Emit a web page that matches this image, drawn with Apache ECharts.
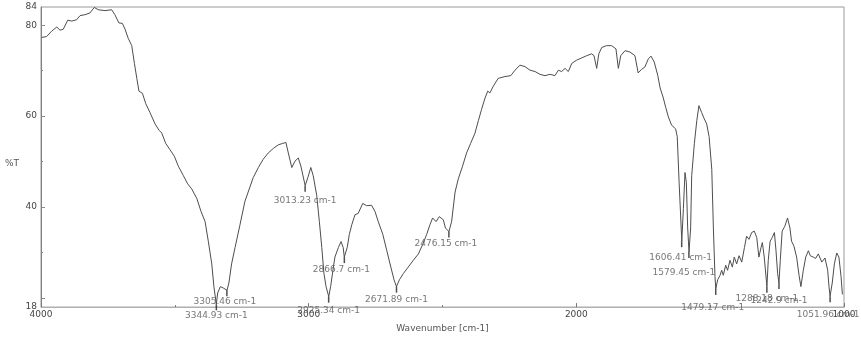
<!DOCTYPE html>
<html>
<head>
<meta charset="utf-8">
<script src="https://cdn.jsdelivr.net/npm/echarts@6/dist/echarts.min.js"></script>
<style>
html,body{margin:0;padding:0;background:#fff;}
#chart{width:861px;height:338px;}
</style>
</head>
<body>
<div id="chart"></div>
<script>
// Spectrum: wavenumber (cm-1) and transmittance (%T)
const wavenumber = [
3997,3979,3960,3941,3929,3917,3900,3885,3867,3854,3836,3817,3801,3786,3761,3736,3724,3709,3696,3686,
3674,3661,3651,3642,3634,3621,3609,3593,3574,3559,3549,3534,3518,3502,3487,3468,3452,3437,3418,3402,
3387,3375,3362,3354,3345,3340,3330,3319,3305,3298,3288,3275,3257,3238,3226,3207,3188,3170,3151,3132,
3113,3097,3085,3076,3063,3051,3039,3029,3013,3003,2992,2983,2970,2960,2951,2943,2935,2925,2918,2910,
2902,2889,2879,2871,2867,2856,2848,2839,2827,2815,2798,2783,2765,2752,2740,2723,2708,2693,2681,2672,
2661,2646,2628,2609,2590,2574,2559,2547,2537,2524,2512,2497,2489,2476,2466,2453,2441,2425,2410,2395,
2379,2366,2354,2341,2331,2323,2310,2292,2267,2245,2229,2211,2192,2173,2154,2136,2117,2098,2080,2067,
2055,2042,2030,2017,1999,1980,1961,1943,1934,1924,1916,1905,1887,1868,1852,1843,1834,1818,1800,1781,
1769,1756,1744,1731,1721,1709,1696,1687,1675,1666,1656,1644,1629,1623,1616,1606,1600,1594,1589,1584,
1579,1573,1569,1559,1550,1542,1532,1522,1513,1504,1494,1488,1482,1479,1472,1463,1457,1451,1442,1435,
1426,1417,1410,1401,1392,1382,1372,1364,1355,1345,1335,1326,1318,1310,1305,1298,1288,1283,1276,1268,
1260,1254,1248,1243,1238,1231,1221,1211,1202,1196,1187,1177,1168,1161,1152,1143,1133,1126,1115,1106,
1096,1083,1071,1061,1056,1052,1044,1036,1027,1019,1011,1006
];
const transmittance = [
77.3,77.5,78.7,79.6,78.9,79.1,81.1,80.9,81.2,82.1,82.3,82.7,83.9,83.4,83.2,83.4,82.3,80.5,80.4,79.1,
77.1,75.5,71.6,68.3,65.5,65.0,62.8,60.8,58.3,56.9,56.3,54.0,52.6,51.2,49.0,46.9,45.1,44.0,41.9,39.0,
36.8,32.5,27.5,22.5,18.6,21.1,22.5,22.2,21.7,23.3,27.5,31.1,36.0,41.3,43.3,46.5,48.7,50.5,51.9,52.9,
53.7,54.0,54.2,51.9,48.7,50.1,50.8,49.0,44.7,46.5,48.7,46.9,42.6,36.8,31.1,25.4,22.5,20.3,22.5,25.8,
29.0,31.1,32.4,31.1,29.0,31.1,34.0,36.1,38.3,38.6,40.8,40.3,40.4,39.0,36.8,34.0,30.4,26.8,24.0,22.5,
24.0,25.4,26.8,28.3,29.7,31.8,34.0,36.1,37.6,36.8,37.9,37.2,35.4,34.6,36.8,43.3,46.2,49.0,51.9,54.0,
56.2,59.0,61.5,64.0,65.5,65.1,66.6,68.3,68.7,68.9,70.1,71.2,70.9,70.1,69.8,69.2,68.9,69.2,68.9,70.1,
69.8,70.5,69.8,71.6,72.3,72.8,73.3,73.7,73.3,70.5,73.7,75.1,75.5,75.5,74.8,70.5,73.3,74.4,74.1,73.3,
69.5,70.3,70.8,72.6,73.2,71.9,69.0,66.2,64.0,61.9,59.8,58.0,57.2,55.5,45.4,32.5,39.7,47.6,45.4,35.4,
30.1,35.4,46.9,54.0,59.0,62.3,60.8,59.4,58.3,55.5,48.3,35.4,24.7,22.0,24.0,25.0,26.1,25.0,27.2,26.1,
28.3,26.8,29.0,27.5,29.3,27.9,31.1,33.6,32.9,34.4,34.7,33.3,29.0,31.1,32.2,29.0,22.5,28.3,32.5,33.3,
34.4,30.4,25.4,23.3,28.3,34.7,35.8,37.6,35.4,32.5,31.4,29.0,25.0,22.5,26.1,29.0,30.4,29.3,29.0,28.7,
29.7,27.9,28.8,26.1,22.5,20.4,23.3,27.5,29.9,29.0,24.7,20.8
];

// Labelled peaks
const peakWavenumber = [3344.93,3305.46,3013.23,2925.34,2866.7,2671.89,2476.15,1606.41,1579.45,1479.17,1288.18,1242.9,1051.96];
const peakTransmittance = [18.6,21.7,44.7,20.3,29.0,22.5,34.6,32.5,30.1,22.0,22.5,23.3,20.4];
const peakLabels = ['3344.93 cm-1','3305.46 cm-1','3013.23 cm-1','2925.34 cm-1','2866.7 cm-1','2671.89 cm-1','2476.15 cm-1',
                    '1606.41 cm-1','1579.45 cm-1','1479.17 cm-1','1288.18 cm-1','1242.9 cm-1','1051.96 cm-1'];

// Axis tick labels
const xTickLabels = [4000,3000,2000,1000];
const yTickLabels = [18,40,60,80,84];
const yMajorTicks = [20,40,60,80];
const yMinorTicks = [30,50,70];

// Layout only: offset (px) from each dip to its label centre
const peakLabelGap = [8,8,12,11,10,10,9,13,18,16,9,15,15];
const peakLabelShift = [0,-2,0,0,-3,0,-3,-1,-5,-3,0,0,-2];

const FONT = 'DejaVu Sans';
const chart = echarts.init(document.getElementById('chart'), null, {renderer:'canvas'});

const lineData = wavenumber.map((w, i) => [w, transmittance[i]]);
const peakData = peakWavenumber.map((w, i) => ({
  value: [w, peakTransmittance[i]],
  label: { offset: [peakLabelShift[i], peakLabelGap[i]] }
}));

chart.setOption({
  animation: false,
  backgroundColor: '#ffffff',
  grid: { left: 41, right: 17, top: 7, bottom: 26, show: true, borderColor: '#9a9a9a', borderWidth: 1, backgroundColor: 'transparent' },
  xAxis: {
    type: 'value', inverse: true, min: 1000, max: 4000, interval: 1000,
    name: 'Wavenumber [cm-1]', nameLocation: 'middle', nameGap: 16,
    nameTextStyle: { fontFamily: FONT, fontSize: 9, color: '#555' },
    axisLine: { show: true, lineStyle: { color: '#b0b0b0', width: 1 } },
    axisTick: { show: true, inside: true, length: 4, lineStyle: { color: '#777' } },
    minorTick: { show: true, splitNumber: 2, length: 2, lineStyle: { color: '#777' } },
    axisLabel: { customValues: xTickLabels, formatter: v => String(v), fontFamily: FONT, fontSize: 9, color: '#444', margin: 3, showMinLabel: true, showMaxLabel: true },
    splitLine: { show: false }, minorSplitLine: { show: false }
  },
  yAxis: [{
    type: 'value', min: 18, max: 84,
    axisLine: { show: true, lineStyle: { color: '#808080', width: 1 } },
    axisTick: { show: true, inside: true, length: 4, customValues: yMajorTicks, lineStyle: { color: '#888' } },
    axisLabel: { customValues: yTickLabels, formatter: v => String(v), fontFamily: FONT, fontSize: 9, color: '#444', margin: 4, showMinLabel: true, showMaxLabel: true },
    splitLine: { show: false }
  }, {
    type: 'value', min: 18, max: 84, position: 'left', offset: 0,
    axisLine: { show: false },
    axisTick: { show: true, inside: true, length: 2, customValues: yMinorTicks, lineStyle: { color: '#888' } },
    axisLabel: { show: false },
    splitLine: { show: false }
  }],
  graphic: [{
    type: 'text', left: 5, top: 159,
    style: { text: '%T', font: '9px "DejaVu Sans"', fill: '#555' }
  }],
  series: [{
    type: 'line', data: lineData, yAxisIndex: 0,
    showSymbol: false, symbol: 'none', smooth: false,
    lineStyle: { color: '#4d4d4d', width: 1 },
    z: 2
  }, {
    type: 'scatter', data: peakData, yAxisIndex: 0,
    symbol: 'rect', symbolSize: [1.5, 6], symbolOffset: [0, 3],
    itemStyle: { color: '#222' },
    label: {
      show: true, position: 'inside',
      formatter: p => peakLabels[p.dataIndex],
      fontFamily: FONT, fontSize: 9, color: '#555'
    },
    clip: false, silent: true, z: 3
  }]
});
</script>
</body>
</html>
